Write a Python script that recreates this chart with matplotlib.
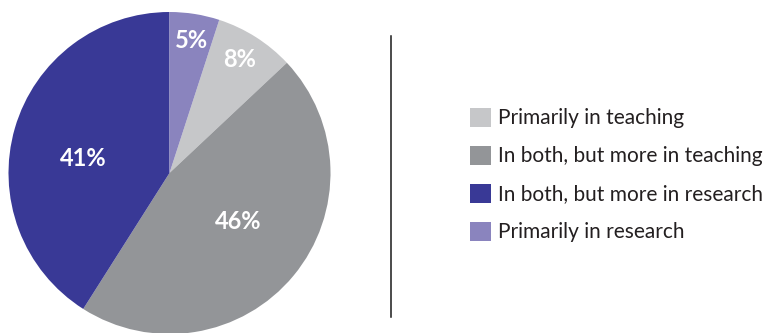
import matplotlib.pyplot as plt
from matplotlib.lines import Line2D

labels = ["Primarily in teaching",
          "In both, but more in teaching",
          "In both, but more in research",
          "Primarily in research"]
shares = [8, 46, 41, 5]
colors = ["#c6c7c9", "#939598", "#393996", "#8a84be"]

# label spots inside the wedges, in pie units (radius 1)
label_xy = [(0.435, 0.705), (0.425, -0.304), (-0.537, 0.093), (0.134, 0.826)]

W, H = 772, 333
fig = plt.figure(figsize=(W / 100, H / 100), dpi=100)

cx, cy, r = 169.5, 173, 161
ax = fig.add_axes([(cx - r) / W, (H - cy - r) / H, 2 * r / W, 2 * r / H])
ax.set_xlim(-1, 1)
ax.set_ylim(-1, 1)
ax.set_axis_off()

# last share sits just right of 12 o'clock, others run clockwise after it
start = 90 - 360 * shares[-1] / sum(shares)
wedges, _ = ax.pie(shares, colors=colors, startangle=start, counterclock=False,
                   radius=1, center=(0, 0), frame=True,
                   wedgeprops=dict(linewidth=0))
ax.set_axis_off()

for s, (x, y) in zip(shares, label_xy):
    ax.text(x, y, f"{s}%", ha="center", va="center", color="white",
            fontsize=17, fontweight="bold", family="Lato")

fig.legend(wedges, labels, loc="upper left",
           bbox_to_anchor=(470 / W, 1 - 108 / H),
           frameon=False, prop=dict(family="Lato", size=15),
           handlelength=1.0, handleheight=1.0, handletextpad=0.35,
           labelspacing=0.84, borderaxespad=0, borderpad=0,
           labelcolor="#231f20")

fig.add_artist(Line2D([391 / W, 391 / W], [1 - 36 / H, 1 - 317 / H],
                      color="#1a1a1a", linewidth=1.1))

fig.savefig("out.png", dpi=100)
